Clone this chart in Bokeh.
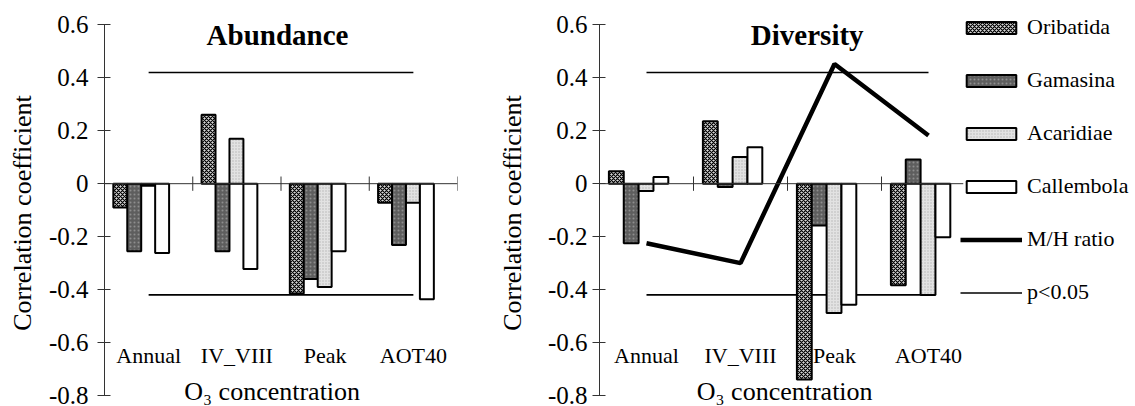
from bokeh.plotting import figure
from bokeh.models import (Range1d, FixedTicker, Span, Label, Legend, LegendItem,
                          ColumnDataSource)
from bokeh.layouts import row
from bokeh.embed import file_html
from bokeh.resources import INLINE
from bokeh.core.properties import value

# ---------------- data ----------------
categories = ["Annual", "IV_VIII", "Peak", "AOT40"]
series = ["Oribatida", "Gamasina", "Acaridiae", "Callembola"]

abund_oribatida = [-0.090, 0.260, -0.415, -0.072]
abund_gamasina = [-0.255, -0.255, -0.360, -0.232]
abund_acaridiae = [-0.008, 0.170, -0.390, -0.072]
abund_callembola = [-0.262, -0.322, -0.255, -0.436]

div_oribatida = [0.047, 0.236, -0.740, -0.384]
div_gamasina = [-0.225, -0.013, -0.158, 0.091]
div_acaridiae = [-0.028, 0.101, -0.488, -0.420]
div_callembola = [0.025, 0.138, -0.457, -0.202]

mh_ratio = [-0.225, -0.300, 0.452, 0.182]

p_upper = [0.42, 0.42, 0.42, 0.42]
p_lower = [-0.42, -0.42, -0.42, -0.42]

y_ticks = [-0.8, -0.6, -0.4, -0.2, 0, 0.2, 0.4, 0.6]
y_tick_labels = ["-0.8", "-0.6", "-0.4", "-0.2", "0", "0.2", "0.4", "0.6"]

# ---------------- styles ----------------
FONT = "Liberation Serif"
FONT_Q = "'Liberation Serif'"
styles = {
    "Oribatida": dict(fill_color="#d8d8d8", hatch_pattern="diagonal_cross",
                      hatch_color="#000000", hatch_scale=4, hatch_weight=1.2),
    "Gamasina": dict(fill_color="#5e5e5e", hatch_pattern="dot",
                     hatch_color="#8e8e8e", hatch_scale=4, hatch_weight=1),
    "Acaridiae": dict(fill_color="#e2e2e2", hatch_pattern="dot",
                      hatch_color="#b4b4b4", hatch_scale=3, hatch_weight=1),
    "Callembola": dict(fill_color="white"),
}

BAR_W = 0.158
GROUP_START = 0.1
n_cat = len(categories)
centers = [i + 0.5 for i in range(n_cat)]
bounds = [i + 1 for i in range(n_cat)]


def make_panel(title, title_x, vals, frame_w, x_end, border_left, border_right,
               label_standoff, tick_standoff, xlabel_x, mh=None):
    p = figure(frame_width=frame_w, frame_height=387,
               x_range=Range1d(0, x_end), y_range=Range1d(-0.8415, 0.62),
               output_backend="svg", toolbar_location=None,
               x_axis_location=None,
               min_border_left=border_left, min_border_right=border_right,
               min_border_top=19, min_border_bottom=0)
    p.outline_line_color = None
    p.xgrid.visible = False
    p.ygrid.visible = False
    p.background_fill_color = "white"

    ax = p.yaxis[0]
    ax.ticker = FixedTicker(ticks=y_ticks)
    ax.bounds = (-0.8, 0.6)
    ax.major_label_overrides = dict(zip(y_ticks, y_tick_labels))
    ax.major_tick_in = 6
    ax.major_tick_out = 7
    ax.minor_tick_line_color = None
    ax.axis_line_color = "#333333"
    ax.major_tick_line_color = "#333333"
    ax.major_label_text_font = FONT_Q
    ax.major_label_text_font_size = "25px"
    ax.major_label_text_color = "black"
    ax.major_label_standoff = tick_standoff
    ax.axis_label = "Correlation coefficient"
    ax.axis_label_text_font = FONT_Q
    ax.axis_label_text_font_style = "normal"
    ax.axis_label_text_font_size = "26px"
    ax.axis_label_text_color = "black"
    ax.axis_label_standoff = label_standoff

    # category axis at zero
    p.add_layout(Span(location=0, dimension="width", line_color="#333333",
                      line_width=1))
    p.segment(x0=bounds, y0=[-0.027] * n_cat, x1=bounds, y1=[0.027] * n_cat,
              line_color="#333333", line_width=1)

    # p<0.05 threshold lines
    p.line(x=centers, y=p_upper, line_color="black", line_width=1.6)
    r_p = p.line(x=centers, y=p_lower, line_color="black", line_width=1.6)

    bar_renderers = []
    for j, (name, v) in enumerate(zip(series, vals)):
        xs = [i + GROUP_START + BAR_W * (j + 0.5) for i in range(n_cat)]
        src = ColumnDataSource(dict(x=xs, top=v))
        r = p.vbar(x="x", top="top", bottom=0, width=BAR_W, source=src,
                   line_color="black", line_width=2, **styles[name])
        bar_renderers.append(r)

    r_mh = None
    if mh is not None:
        r_mh = p.line(x=centers, y=mh, line_color="black", line_width=4.5)

    p.text(x=centers, y=[-0.65] * n_cat, text=categories,
           text_font=value(FONT), text_font_size="22px",
           text_align="center", text_baseline="middle", text_color="black")

    p.add_layout(Label(x=xlabel_x, y=-0.785, text="O\u2083 concentration",
                       text_font=FONT_Q, text_font_size="26px",
                       text_align="center", text_baseline="middle",
                       text_color="black"))
    p.add_layout(Label(x=title_x, y=0.56, text=title, text_font=FONT_Q,
                       text_font_size="29px", text_font_style="bold",
                       text_align="center", text_baseline="middle",
                       text_color="black"))
    return p, bar_renderers, r_mh, r_p


p1, _, _, _ = make_panel("Abundance", 1.96,
                         [abund_oribatida, abund_gamasina, abund_acaridiae, abund_callembola],
                         353, 4.0, 104, 10, 9, 9, 1.9)

p2, bars2, r_mh, r_p = make_panel("Diversity", 2.21,
                                  [div_oribatida, div_gamasina, div_acaridiae, div_callembola],
                                  364, 364 / 94.0, 132, 0, 18, 5, 1.97, mh=mh_ratio)

items = [LegendItem(label=name, renderers=[r]) for name, r in zip(series, bars2)]
items.append(LegendItem(label="M/H ratio", renderers=[r_mh]))
items.append(LegendItem(label="p<0.05", renderers=[r_p]))

legend = Legend(items=items, location=(-3, 101), orientation="vertical",
                glyph_width=62, glyph_height=15, label_standoff=5, spacing=27,
                padding=0, margin=0, border_line_color=None,
                background_fill_alpha=0, label_text_font=FONT_Q,
                label_text_font_size="22px", label_height=25,
                label_text_color="black")
p2.add_layout(legend, "right")

layout = row(p1, p2)

open("out.html", "w").write(file_html(layout, INLINE))
